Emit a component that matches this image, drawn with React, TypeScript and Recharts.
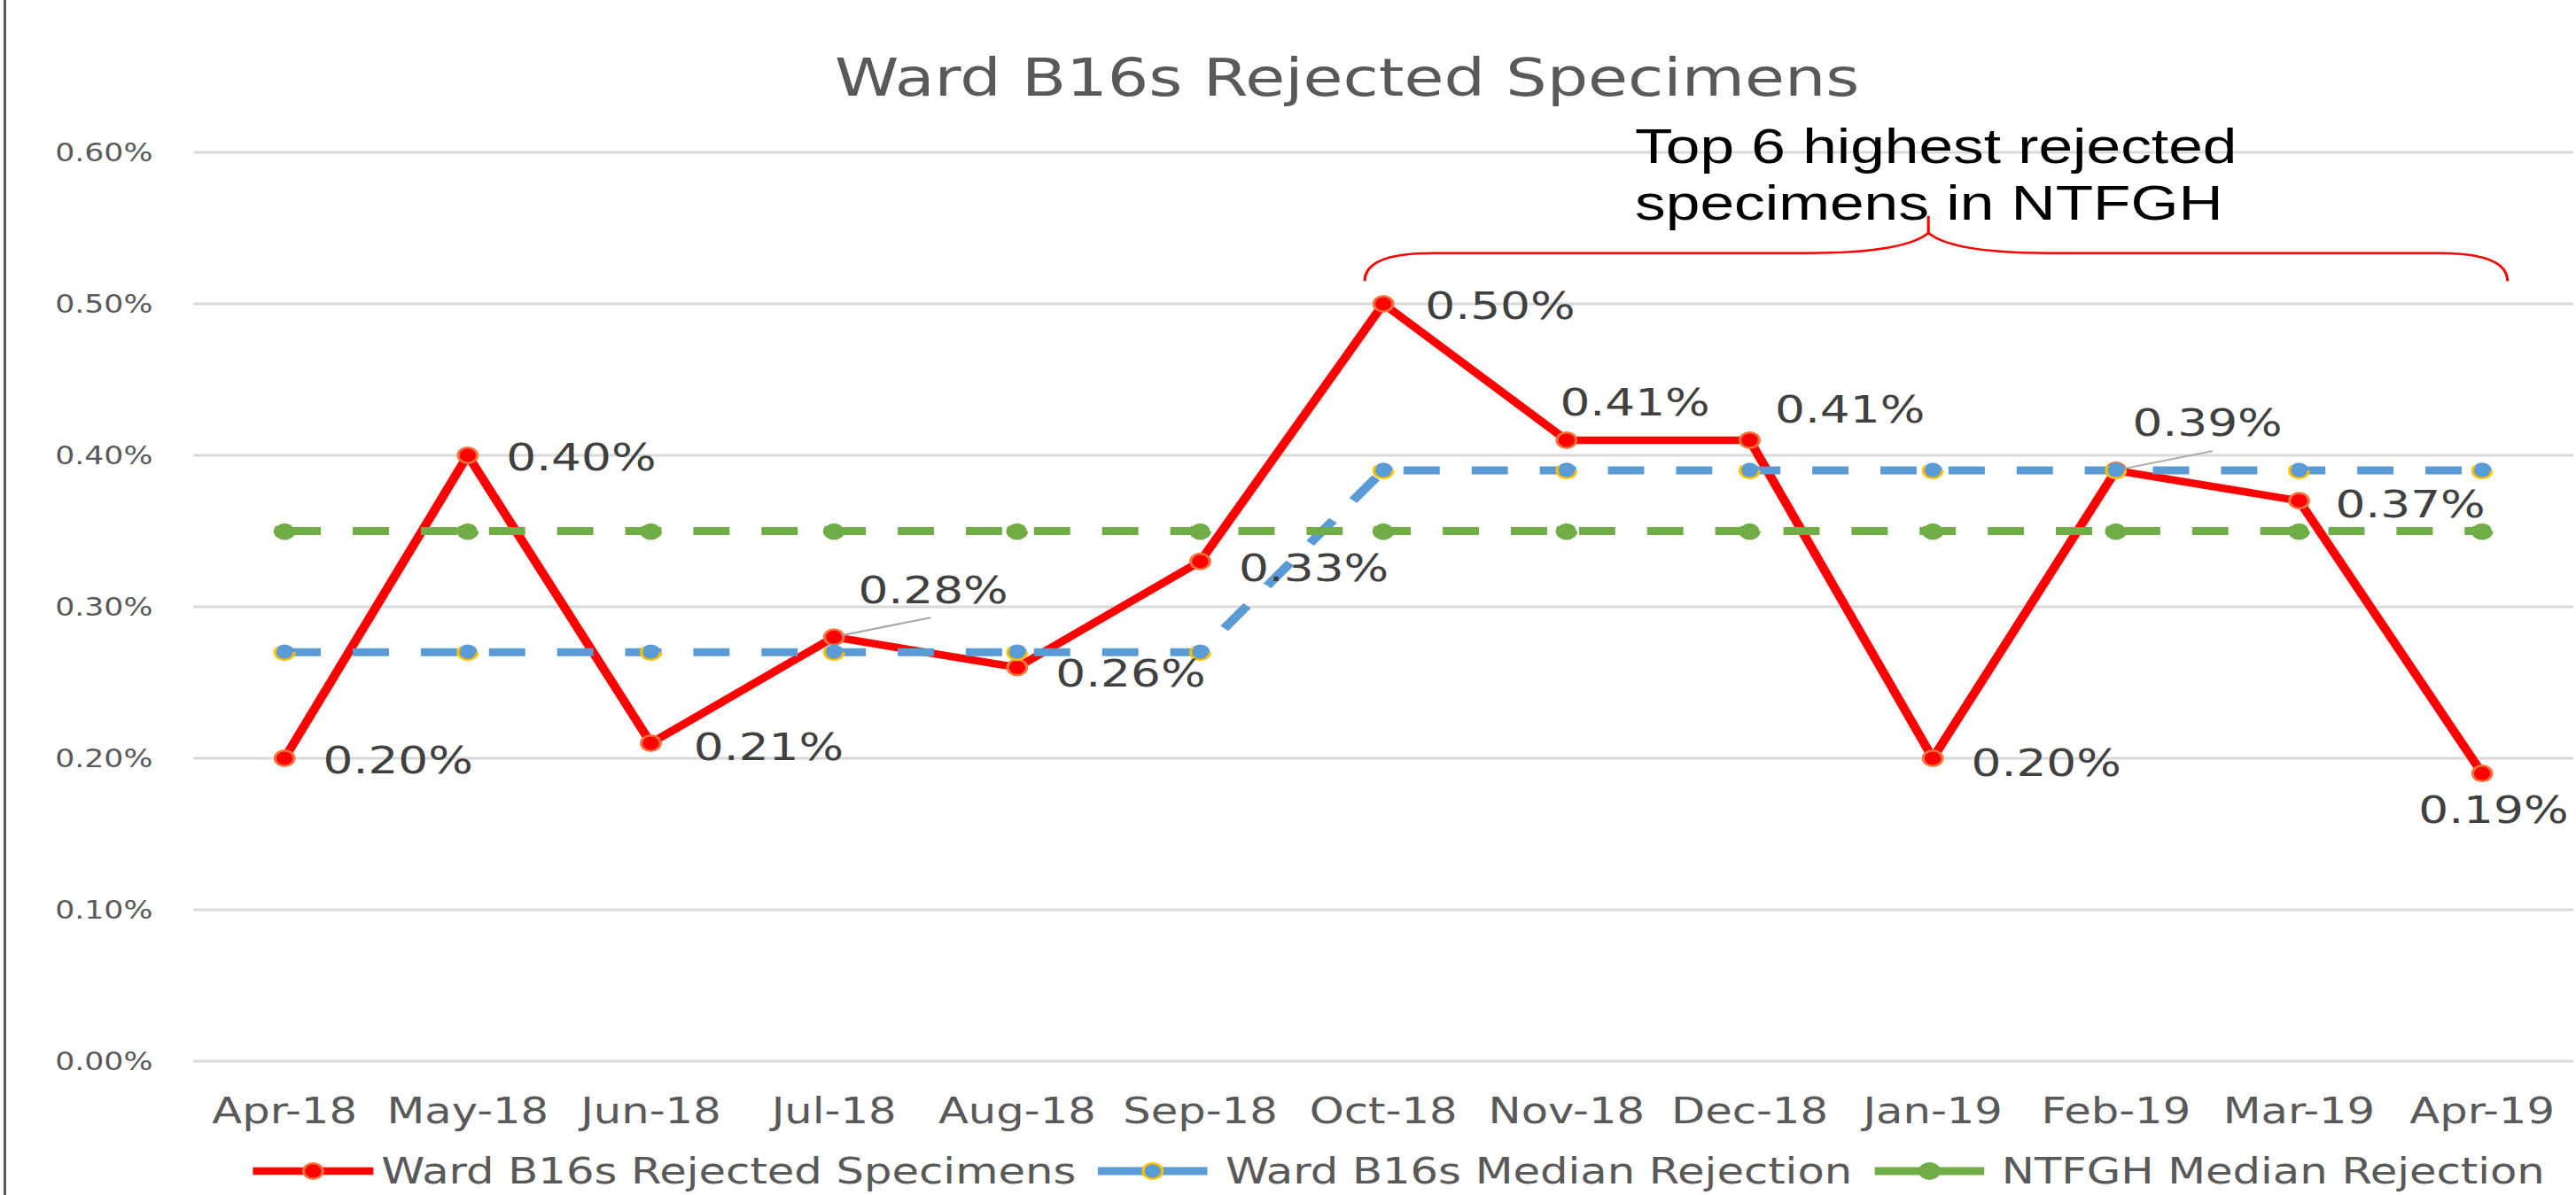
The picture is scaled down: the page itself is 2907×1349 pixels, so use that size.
import React from 'react';
import { LineChart, Line, XAxis, YAxis, CartesianGrid, Legend, LabelList, ReferenceArea } from 'recharts';

// ---------- data ----------
const months = ['Apr-18', 'May-18', 'Jun-18', 'Jul-18', 'Aug-18', 'Sep-18', 'Oct-18', 'Nov-18', 'Dec-18', 'Jan-19', 'Feb-19', 'Mar-19', 'Apr-19'];
const rejectedRate = [0.002, 0.004, 0.0021, 0.0028, 0.0026, 0.0033, 0.005, 0.0041, 0.0041, 0.002, 0.0039, 0.0037, 0.0019];
const wardMedian = [0.0027, 0.0027, 0.0027, 0.0027, 0.0027, 0.0027, 0.0039, 0.0039, 0.0039, 0.0039, 0.0039, 0.0039, 0.0039];
const ntfghMedian = [0.0035, 0.0035, 0.0035, 0.0035, 0.0035, 0.0035, 0.0035, 0.0035, 0.0035, 0.0035, 0.0035, 0.0035, 0.0035];
const yTicks = [0, 0.001, 0.002, 0.003, 0.004, 0.005, 0.006];
const seriesNames = ['Ward B16s Rejected Specimens', 'Ward B16s Median Rejection', 'NTFGH Median Rejection'];
const chartTitle = 'Ward B16s Rejected Specimens';
const annotationLines = ['Top 6 highest rejected', 'specimens in NTFGH'];
const bracketFrom = 'Oct-18';
const bracketTo = 'Apr-19';
const bracketLow = 0.00515;
const bracketHigh = 0.00558;

const tableData = months.map((m, i) => ({
  month: m,
  rejected: rejectedRate[i],
  ward: wardMedian[i],
  ntfgh: ntfghMedian[i],
}));

// ---------- styling ----------
const SX = 1.24; // horizontal stretch of the reference picture
const OUT_W = 2907;
const H = 1349;
const W = Math.round(OUT_W / SX);
const FONT = '"DejaVu Sans", Verdana, sans-serif';
const RED = '#FF0000';
const BLUE = '#5B9BD5';
const GREEN = '#70AD47';

const pct = (v: number) => (v * 100).toFixed(2) + '%';

// label placement per point (dx, dy relative to the point), leader lines
const labelOffsets = [
  { dx: 35, dy: 2 },
  { dx: 35, dy: 2 },
  { dx: 39, dy: 4 },
  { dx: 22, dy: -53, leader: true },
  { dx: 35, dy: 7 },
  { dx: 35, dy: 7 },
  { dx: 38, dy: 2 },
  { dx: -6, dy: -43 },
  { dx: 23, dy: -35 },
  { dx: 35, dy: 5 },
  { dx: 15, dy: -54, leader: true },
  { dx: 33, dy: 4 },
  { dx: -58, dy: 41 },
];

const renderDataLabel = (props: any) => {
  const x = props.x ?? props.viewBox?.x;
  const y = props.y ?? props.viewBox?.y;
  const { value, index } = props;
  const o = labelOffsets[index] || { dx: 35, dy: 2 };
  return (
    <g key={`lbl-${index}`}>
      {o.leader ? (
        <line x1={x + 7} y1={y - 2} x2={x + 88} y2={y - 22} stroke="#A6A6A6" strokeWidth={2} />
      ) : null}
      <text
        x={x + o.dx}
        y={y + o.dy}
        dominantBaseline="central"
        fontFamily={FONT}
        fontSize={43}
        fill="#404040"
      >
        {pct(value)}
      </text>
    </g>
  );
};

const renderBracket = (props: any) => {
  const { x, y, width, height } = props;
  const L = x - 17;
  const R = x + width + 23;
  const C = x + width / 2 - 4;
  const yT = y;
  const yB = y + height;
  const yS = yB - 0.43 * height;
  const yC = yB - 0.74 * height;
  const d =
    `M ${L} ${yB} Q ${L} ${yS} ${L + 62} ${yS} L ${C - 110} ${yS} Q ${C - 22} ${yS} ${C} ${yC} L ${C} ${yT} ` +
    `M ${C} ${yC} Q ${C + 22} ${yS} ${C + 110} ${yS} L ${R - 62} ${yS} Q ${R} ${yS} ${R} ${yB}`;
  return (
    <g>
      <path d={d} fill="none" stroke={RED} strokeWidth={2.5} />
      <text x={C - 267} y={yT - 60} fontFamily='"Liberation Sans", Arial, sans-serif' fontSize={56} fill="#000">
        {annotationLines[0]}
      </text>
      <text x={C - 267} y={yT + 4} fontFamily='"Liberation Sans", Arial, sans-serif' fontSize={56} fill="#000">
        {annotationLines[1]}
      </text>
    </g>
  );
};

const legendStyles = [
  { color: RED, marker: RED, markerStroke: '#F4743B', dashed: false },
  { color: BLUE, marker: BLUE, markerStroke: '#FFC000', dashed: true },
  { color: GREEN, marker: GREEN, markerStroke: GREEN, dashed: true },
];

const renderLegend = () => (
  <div
    style={{
      height: 61,
      boxSizing: 'border-box',
      paddingTop: 7,
      paddingLeft: 230,
      display: 'flex',
      alignItems: 'center',
      whiteSpace: 'nowrap',
      fontFamily: FONT,
      fontSize: 40,
      color: '#595959',
    }}
  >
    {seriesNames.map((name, i) => {
      const s = legendStyles[i];
      const lw = i === 0 ? 110 : 100;
      return (
        <div key={name} style={{ display: 'flex', alignItems: 'center', marginRight: 20 }}>
          <svg width={lw} height={30} style={{ display: 'block' }}>
            {s.dashed ? (
              <g>
                <line x1={0} y1={15} x2={lw * 0.42} y2={15} stroke={s.color} strokeWidth={9} />
                <line x1={lw * 0.58} y1={15} x2={lw} y2={15} stroke={s.color} strokeWidth={9} />
              </g>
            ) : (
              <line x1={0} y1={15} x2={lw} y2={15} stroke={s.color} strokeWidth={8.5} />
            )}
            <circle cx={lw / 2} cy={15} r={8.75} fill={s.marker} stroke={s.markerStroke} strokeWidth={2.5} />
          </svg>
          <span style={{ marginLeft: i === 0 ? 7 : 16 }}>{name}</span>
        </div>
      );
    })}
  </div>
);

export default function App() {
  return (
    <div
      style={{
        position: 'absolute',
        left: 0,
        top: 0,
        width: OUT_W,
        height: H,
        overflow: 'hidden',
        background: '#fff',
      }}
    >
      <div
        style={{
          position: 'absolute',
          left: 0,
          top: 0,
          width: W,
          height: H,
          transform: `scaleX(${SX})`,
          transformOrigin: '0 0',
        }}
      >
        <div
          style={{
            position: 'absolute',
            left: 1226 - 1000,
            width: 2000,
            top: 58,
            textAlign: 'center',
            fontFamily: FONT,
            fontSize: 59,
            lineHeight: '59px',
            color: '#595959',
            whiteSpace: 'nowrap',
            zIndex: 2,
          }}
        >
          {chartTitle}
        </div>
        <LineChart width={W} height={H} data={tableData} margin={{ top: 172, right: 2, bottom: 0, left: 0 }}>
          <CartesianGrid vertical={false} stroke="#D9D9D9" strokeWidth={3} />
          <XAxis
            dataKey="month"
            interval={0}
            axisLine={false}
            tickLine={false}
            tickSize={0}
            tickMargin={42}
            height={90}
            padding={{ left: 83, right: 83 }}
            tick={{ fontSize: 40, fill: '#595959', fontFamily: FONT }}
          />
          <YAxis
            domain={[0, 0.006]}
            ticks={yTicks}
            tickFormatter={pct}
            width={176}
            axisLine={false}
            tickLine={false}
            tickSize={0}
            tickMargin={37}
            tick={{ fontSize: 28, fill: '#595959', fontFamily: FONT }}
          />
          <ReferenceArea
            x1={bracketFrom}
            x2={bracketTo}
            y1={bracketLow}
            y2={bracketHigh}
            shape={renderBracket}
          />
          <Line
            type="linear"
            dataKey="rejected"
            name={seriesNames[0]}
            stroke={RED}
            strokeWidth={8.5}
            strokeLinejoin="round"
            dot={{ r: 8.75, fill: RED, stroke: '#F4743B', strokeWidth: 2.5 }}
            activeDot={false}
            isAnimationActive={false}
          >
            <LabelList dataKey="rejected" content={renderDataLabel} />
          </Line>
          <Line
            type="linear"
            dataKey="ward"
            name={seriesNames[1]}
            stroke={BLUE}
            strokeWidth={9}
            strokeDasharray="33 29"
            dot={{ r: 8.75, fill: BLUE, stroke: '#FFC000', strokeWidth: 2.5 }}
            activeDot={false}
            isAnimationActive={false}
          />
          <Line
            type="linear"
            dataKey="ntfgh"
            name={seriesNames[2]}
            stroke={GREEN}
            strokeWidth={9}
            strokeDasharray="33 29"
            dot={{ r: 8.75, fill: GREEN, stroke: GREEN, strokeWidth: 2.5 }}
            activeDot={false}
            isAnimationActive={false}
          />
          <Legend verticalAlign="bottom" align="left" height={61} content={renderLegend} />
        </LineChart>
      </div>
      <div style={{ position: 'absolute', left: 4, top: 0, width: 3, height: H, background: '#595959' }} />
    </div>
  );
}
